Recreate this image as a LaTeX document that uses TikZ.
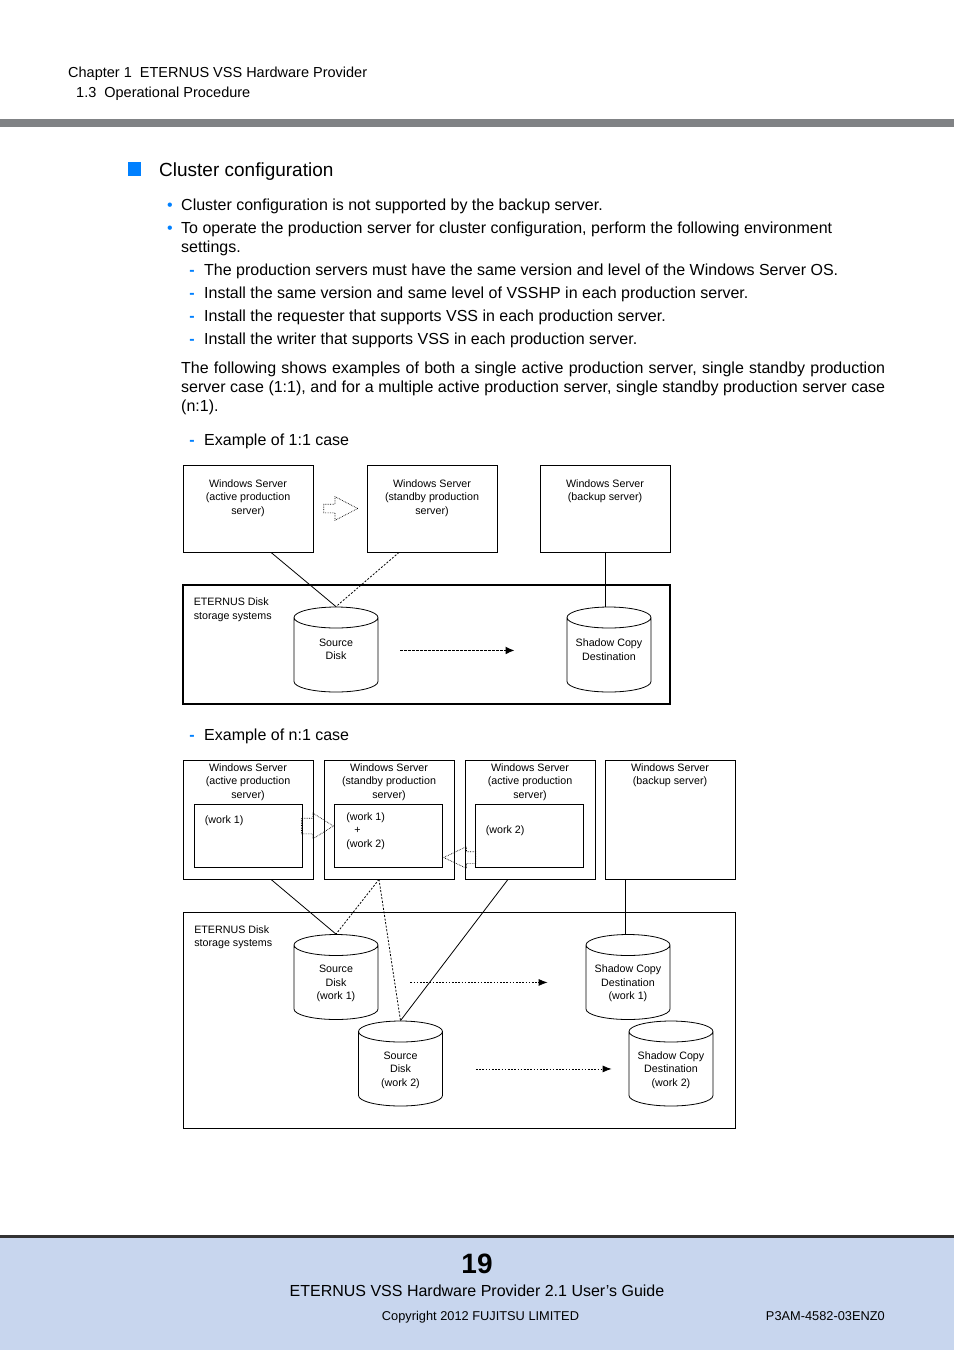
\documentclass[tikz,border=0pt]{standalone}
\usepackage{fontspec}
\setmainfont{Liberation Sans}
\usetikzlibrary{shapes, arrows.meta, positioning}

\definecolor{fjblue}{RGB}{0,128,255}
\definecolor{bargray}{RGB}{128,130,133}
\definecolor{footblue}{RGB}{200,214,238}

\tikzset{
  txt/.style={anchor=base west, inner sep=0pt, font=\fontsize{16}{19}\selectfont},
  hdr/.style={anchor=base west, inner sep=0pt, font=\fontsize{14.5}{17}\selectfont},
  bul/.style={anchor=base, inner sep=0pt, text=fjblue, font=\fontsize{16}{19}\selectfont},
  dia/.style={inner sep=0pt, font=\fontsize{10.7}{13.5}\selectfont},
  srv/.style={draw, line width=0.8pt, minimum width=130pt, inner sep=0pt},
  srvlbl/.style={dia, align=center},
  wkbox/.style={draw, line width=0.8pt, minimum width=108pt, minimum height=63pt, inner sep=0pt},
  wklbl/.style={dia, align=left},
  disk/.style={cylinder, shape border rotate=90, draw, line width=0.8pt, aspect=0.25,
    text width=84pt, minimum height=85pt, inner sep=0pt, anchor=shape center},
  disklbl/.style={dia, align=center},
  failover/.style={single arrow, draw, densely dotted, line width=0.7pt, inner sep=4pt,
    single arrow head indent=0pt},
  link/.style={line width=0.8pt},
  standby/.style={line width=0.8pt, dash pattern=on 2pt off 1.6pt},
  copyline/.style={line width=1.6pt, dash pattern=on 2.2pt off 1.8pt, -{Latex[length=9pt,width=8pt]}},
  copythin/.style={line width=0.8pt, dash pattern=on 1.6pt off 1.6pt, -{Latex[length=9pt,width=7pt]}}
}

\begin{document}
\begin{tikzpicture}[x=1pt, y=-1pt]
\useasboundingbox (0,0) rectangle (954,1350);

% page header
\node[hdr] (chap) at (68,77) {Chapter 1~ ETERNUS VSS Hardware Provider};
\node[hdr] (sect) at (76,97) {1.3~ Operational Procedure};
\fill[bargray] (0,119) rectangle (954,127);

% section title
\fill[fjblue] (128,162) rectangle (141,176);
\node[anchor=base west, inner sep=0pt, font=\fontsize{19}{23}\selectfont] (title) at (159,176) {Cluster configuration};

% bullets
\node[bul] (m1) at (170,210) {•};
\node[txt] (b1) at (181,210) {Cluster configuration is not supported by the backup server.};
\node[bul] (m2) at (170,233) {•};
\node[txt] (b2) at (181,233) {To operate the production server for cluster configuration, perform the following environment};
\node[txt] (b2b) at (181,252) {settings.};
\node[bul, font=\fontsize{16}{19}\selectfont\bfseries] (d1) at (192,275) {-};
\node[txt] (s1) at (204,275) {The production servers must have the same version and level of the Windows Server OS.};
\node[bul, font=\fontsize{16}{19}\selectfont\bfseries] (d2) at (192,298) {-};
\node[txt] (s2) at (204,298) {Install the same version and same level of VSSHP in each production server.};
\node[bul, font=\fontsize{16}{19}\selectfont\bfseries] (d3) at (192,321) {-};
\node[txt] (s3) at (204,321) {Install the requester that supports VSS in each production server.};
\node[bul, font=\fontsize{16}{19}\selectfont\bfseries] (d4) at (192,344) {-};
\node[txt] (s4) at (204,344) {Install the writer that supports VSS in each production server.};
\node[txt] (p1) at (181,373) {\makebox[704pt][s]{The following shows examples of both a single active production server, single standby production}};
\node[txt] (p2) at (181,392) {\makebox[704pt][s]{server case (1:1), and for a multiple active production server, single standby production server case}};
\node[txt] (p3) at (181,411) {(n:1).};

% example 1:1
\node[bul, font=\fontsize{16}{19}\selectfont\bfseries] (d5) at (192,445) {-};
\node[txt] (ex1) at (204,445) {Example of 1:1 case};

\node[srv, minimum height=87pt] (srvA) at (248,508.5) {};
\node[srv, minimum height=87pt] (srvB) at (432,508.5) {};
\node[srv, minimum height=87pt] (srvC) at (605,508.5) {};
\node[srvlbl, below=14.8pt of srvA.north] (lblA) {Windows Server\\(active production\\server)};
\node[srvlbl, below=14.8pt of srvB.north] (lblB) {Windows Server\\(standby production\\server)};
\node[srvlbl, below=14.8pt of srvC.north] (lblC) {Windows Server\\(backup server)};
\node[failover, minimum height=34pt, single arrow head extend=7.5pt, single arrow tip angle=55,
  right=10pt of srvA] (fo) {};

\node[draw, line width=1.8pt, minimum width=487pt, minimum height=119pt] (stor) at (426.5,644.5) {};
\node[dia, align=left, below right=13.6pt and 11.5pt of stor.north west] (storlbl) {ETERNUS Disk\\storage systems};
\node[disk] (src) at (336,649.5) {};
\node[disk] (dst) at (609,649.5) {};
\node[disklbl] (srctxt) at (src.shape center) {Source\\Disk};
\node[disklbl] (dsttxt) at (dst.shape center) {Shadow Copy\\Destination};

\draw[link] ([xshift=23pt]srvA.south) -- (src.north);
\draw[standby] ([xshift=-33pt]srvB.south) -- (src.north);
\draw[link] (srvC.south) -- (srvC.south |- dst.north);
\draw[copyline] ([xshift=22pt,yshift=4.5pt]src.east) -- ([xshift=-52pt,yshift=4.5pt]dst.west);

% example n:1
\node[bul, font=\fontsize{16}{19}\selectfont\bfseries] (d6) at (192,740) {-};
\node[txt] (ex2) at (204,740) {Example of n:1 case};

\node[srv, minimum height=119pt] (srvP) at (248,819.5) {};
\node[srv, minimum height=119pt] (srvQ) at (389,819.5) {};
\node[srv, minimum height=119pt] (srvR) at (530,819.5) {};
\node[srv, minimum height=119pt] (srvS) at (670,819.5) {};
\node[srvlbl, below=3.6pt of srvP.north] (lblP) {Windows Server\\(active production\\server)};
\node[srvlbl, below=3.6pt of srvQ.north] (lblQ) {Windows Server\\(standby production\\server)};
\node[srvlbl, below=3.6pt of srvR.north] (lblR) {Windows Server\\(active production\\server)};
\node[srvlbl, below=3.6pt of srvS.north] (lblS) {Windows Server\\(backup server)};

\node[wkbox] (wkA) at (248,835.5) {};
\node[wkbox] (wkB) at (388.5,835.5) {};
\node[wkbox] (wkC) at (529,835.5) {};
\node[wklbl, below right=11.6pt and 11pt of wkA.north west] (wlA) {(work 1)};
\node[wklbl, below right=8.6pt and 12pt of wkB.north west] (wlB) {(work 1)\\\hspace{8pt}+\\(work 2)};
\node[wklbl, below right=21.6pt and 11pt of wkC.north west] (wlC) {(work 2)};

\node[failover, minimum height=32pt, inner sep=7.5pt, single arrow head extend=5pt, single arrow tip angle=64,
  anchor=tip] (foA) at ([yshift=9.5pt]wkB.west) {};
\node[failover, minimum height=32pt, inner sep=5.5pt, single arrow head extend=5pt, single arrow tip angle=51,
  shape border rotate=180, anchor=tip] (foC) at ([yshift=-22pt]wkB.east) {};

\node[draw, line width=0.8pt, minimum width=552pt, minimum height=216pt] (stor2) at (459,1020) {};
\node[dia, align=left, below right=13.6pt and 11.5pt of stor2.north west] (storlbl2) {ETERNUS Disk\\storage systems};
\node[disk] (srcA) at (336,977) {};
\node[disk] (srcB) at (400.5,1063.5) {};
\node[disk] (dstA) at (628,977) {};
\node[disk] (dstB) at (671,1063.5) {};
\node[disklbl] (srcAtxt) at ([yshift=-6.5pt]srcA.shape center) {Source\\Disk\\(work 1)};
\node[disklbl] (srcBtxt) at ([yshift=-6.5pt]srcB.shape center) {Source\\Disk\\(work 2)};
\node[disklbl] (dstAtxt) at ([yshift=-6.5pt]dstA.shape center) {Shadow Copy\\Destination\\(work 1)};
\node[disklbl] (dstBtxt) at ([yshift=-6.5pt]dstB.shape center) {Shadow Copy\\Destination\\(work 2)};

\draw[link] ([xshift=23pt]srvP.south) -- (srcA.north);
\draw[standby] ([xshift=-10pt]srvQ.south) -- (srcA.north);
\draw[standby] ([xshift=-10pt]srvQ.south) -- (srcB.north);
\draw[link] ([xshift=-22pt]srvR.south) -- (srcB.north);
\draw[link] ([xshift=-45pt]srvS.south) -- ([xshift=-45pt]srvS.south |- dstA.north);
\draw[copythin] ([xshift=32pt]srcA.east) -- ([xshift=-38pt]dstA.west);
\draw[copythin] ([xshift=33pt]srcB.east) -- ([xshift=-17pt]dstB.west);

% page footer
\fill[footblue] (0,1237) rectangle (954,1350);
\fill[black!80] (0,1235) rectangle (954,1238);
\node[anchor=base, inner sep=0pt, font=\fontsize{28}{32}\selectfont\bfseries] (pg) at (477,1273) {19};
\node[anchor=base, inner sep=0pt, font=\fontsize{16}{19}\selectfont] (guide) at (477,1296) {ETERNUS VSS Hardware Provider 2.1 User’s Guide};
\node[anchor=base, inner sep=0pt, font=\fontsize{12.8}{15}\selectfont] (copy) at (480.5,1320) {Copyright 2012 FUJITSU LIMITED};
\node[anchor=base east, inner sep=0pt, font=\fontsize{12.8}{15}\selectfont] (docno) at (885,1320) {P3AM-4582-03ENZ0};
\end{tikzpicture}
\end{document}
